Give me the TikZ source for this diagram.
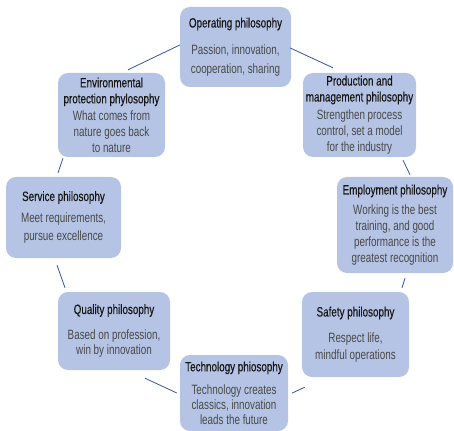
\documentclass[tikz,border=0pt]{standalone}
\usepackage{fontspec}
\newfontfamily\narrowfont{Liberation Sans}[FakeStretch=0.73]
\newfontfamily\titlefont{Liberation Sans}[FakeStretch=0.73,FakeBold=0.4]
\usetikzlibrary{calc}
\definecolor{boxfill}{RGB}{181,196,228}
\definecolor{linec}{RGB}{52,84,166}
\definecolor{titlec}{RGB}{22,22,22}
\definecolor{bodyc}{RGB}{72,72,72}
\newcommand{\ttl}[1]{{\titlefont\color{titlec}#1}}
\begin{document}
\begin{tikzpicture}[x=1pt,y=-1pt,
  pbox/.style={fill=boxfill, rounded corners=10pt, align=center, inner sep=0pt,
    text=bodyc, font=\narrowfont\fontsize{13.5}{16}\selectfont},
  conn/.style={draw=linec, line width=0.8pt}]
\useasboundingbox (0,0) rectangle (454,430);
\node[pbox, minimum width=111pt, minimum height=80pt] (op) at (235.5,47)
  {\ttl{Operating philosophy}\\[11pt]Passion, innovation,\\[3pt]cooperation, sharing};
\node[pbox, minimum width=113pt, minimum height=84pt] (prod) at (359.5,115)
  {\ttl{Production and}\\\ttl{management philosophy}\\[2pt]Strengthen process\\control, set a model\\for the industry};
\node[pbox, minimum width=116pt, minimum height=96pt] (emp) at (395,225)
  {\ttl{Employment philosophy}\\[4pt]Working is the best\\training, and good\\performance is the\\greatest recognition};
\node[pbox, minimum width=107pt, minimum height=85pt] (safe) at (355.5,334.5)
  {\ttl{Safety philosophy}\\[10pt]Respect life,\\[1pt]mindful operations};
\node[pbox, minimum width=108pt, minimum height=76pt] (tech) at (234,393)
  {\ttl{Technology phiosophy}\\[7pt]Technology creates\\[-1pt]classics, innovation\\[-1pt]leads the future};
\node[pbox, minimum width=112pt, minimum height=78pt] (qual) at (114,331)
  {\ttl{Quality philosophy}\\[10pt]Based on profession,\\[-1pt]win by innovation};
\node[pbox, minimum width=115pt, minimum height=81pt] (serv) at (63.5,217.5)
  {\ttl{Service philosophy}\\[6pt]Meet requirements,\\[2pt]pursue excellence};
\node[pbox, minimum width=107pt, minimum height=84pt] (env) at (111.5,115)
  {\ttl{Environmental}\\\ttl{protection phylosophy}\\[1pt]What comes from\\nature goes back\\to nature};
\draw[conn] ($(env.north)+(16.5,-3)$) -- ($(op.west)+(0,-2)$);
\draw[conn] ($(op.east)+(-1,1)$) -- ($(prod.north)+(-26.5,-5)$);
\draw[conn] ($(prod.south)+(43.5,3)$) -- ($(emp.north)+(15,-2)$);
\draw[conn] ($(emp.south)+(10,5)$) -- ($(safe.north)+(46.5,-4)$);
\draw[conn] ($(safe.south west)+(3,10)$) -- ($(tech.east)+(4,0)$);
\draw[conn] ($(tech.west)+(-3,0)$) -- ($(qual.south)+(31,8)$);
\draw[conn] ($(qual.north)+(-49,-4)$) -- ($(serv.south)+(-6.5,7)$);
\draw[conn] ($(serv.north)+(-5.5,-4)$) -- ($(env.south)+(-48.5,1)$);
\end{tikzpicture}
\end{document}
